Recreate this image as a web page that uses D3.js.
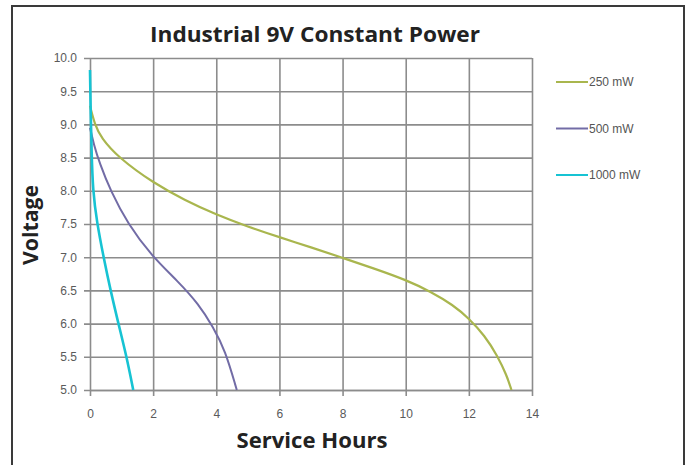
<!DOCTYPE html>
<html>
<head>
<meta charset="utf-8">
<script src="https://cdn.jsdelivr.net/npm/d3@7"></script>
<style>
  body { margin: 0; background: #fff; }
  #viz svg { display: block; }
</style>
</head>
<body>
<div id="viz"></div>
<script>
// values: [service hours, voltage]
const series250 = [[0, 9.28], [0.15, 9.0], [0.35, 8.8], [0.9, 8.5], [2, 8.12], [3, 7.86], [4, 7.64],
  [5, 7.46], [6, 7.3], [7, 7.15], [8, 6.99], [9, 6.83], [10, 6.66], [10.8, 6.48], [11.5, 6.28],
  [12, 6.08], [12.5, 5.82], [12.9, 5.52], [13.2, 5.22], [13.35, 5.0]]
const series500 = [[0, 8.95], [0.12, 8.7], [0.3, 8.42], [0.65, 8.0], [1.2, 7.5], [1.95, 7.02],
  [2.8, 6.63], [3.43, 6.3], [3.9, 5.95], [4.28, 5.6], [4.65, 5.0]]
const series1000 = [[0, 9.82], [0.02, 9.2], [0.05, 8.6], [0.09, 8.0], [0.22, 7.52], [0.43, 7.0],
  [0.65, 6.5], [0.9, 6.0], [1.16, 5.5], [1.37, 5.0]]

const seriesNames = ['250 mW', '500 mW', '1000 mW']
const seriesColors = ['#a9b64e', '#726ca6', '#17c3d3']
const xTicks = [0, 2, 4, 6, 8, 10, 12, 14]
const yTicks = [5.0, 5.5, 6.0, 6.5, 7.0, 7.5, 8.0, 8.5, 9.0, 9.5, 10.0]
const yTickLabels = ['5.0', '5.5', '6.0', '6.5', '7.0', '7.5', '8.0', '8.5', '9.0', '9.5', '10.0']

const W = 692
const H = 465
const margin = { top: 58, left: 90 }
const width = 442
const height = 332

const svg = d3.select('#viz')
  .append('svg')
  .attr('width', W)
  .attr('height', H)

// frame round the whole chart
svg.append('rect')
  .attr('x', 12)
  .attr('y', 6)
  .attr('width', 672)
  .attr('height', 480)
  .attr('fill', 'none')
  .attr('stroke', '#3a3a3a')
  .attr('stroke-width', 2)

const g = svg.append('g')
  .attr('transform', `translate(${margin.left}, ${margin.top})`)

const x = d3.scaleLinear().domain([0, 14]).range([0, width])
const y = d3.scaleLinear().domain([5, 10]).range([height, 0])

const yAxis = g.append('g')
  .call(d3.axisLeft(y)
    .tickValues(yTicks)
    .tickFormat((d, i) => yTickLabels[i])
    .tickSize(-width)
    .tickSizeOuter(0)
    .tickPadding(13))
yAxis.select('.domain').remove()
yAxis.selectAll('.tick line')
  .attr('x1', -6)
  .attr('stroke', '#8c8c8c')
  .attr('stroke-width', 1.6)

const xAxis = g.append('g')
  .attr('transform', `translate(0, ${height})`)
  .call(d3.axisBottom(x)
    .tickValues(xTicks)
    .tickSize(-height)
    .tickSizeOuter(0)
    .tickPadding(19))
xAxis.select('.domain')
  .attr('stroke', '#8c8c8c')
  .attr('stroke-width', 1.6)
xAxis.selectAll('.tick line')
  .attr('y1', 6)
  .attr('stroke', '#8c8c8c')
  .attr('stroke-width', 1.6)

svg.selectAll('.tick text')
  .attr('font-family', 'Liberation Sans, Arial, sans-serif')
  .attr('font-size', 12)
  .attr('fill', '#5a5a5a')

const line = d3.line()
  .x(d => x(d[0]))
  .y(d => y(d[1]))
  .curve(d3.curveBasis)

const allSeries = [series250, series500, series1000]
const widths = [2.2, 2, 2.6]

g.selectAll('.curve')
  .data(allSeries)
  .join('path')
  .attr('class', 'curve')
  .attr('d', line)
  .attr('fill', 'none')
  .attr('stroke', (d, i) => seriesColors[i])
  .attr('stroke-width', (d, i) => widths[i])

// legend to the right of the plot
const legend = g.selectAll('.legend')
  .data(seriesNames)
  .join('g')
  .attr('class', 'legend')
  .attr('transform', (d, i) => `translate(${width + 24}, ${24 + i * 46.5})`)

legend.append('line')
  .attr('x1', 0)
  .attr('x2', 32)
  .attr('stroke', (d, i) => seriesColors[i])
  .attr('stroke-width', 2)

legend.append('text')
  .attr('x', 33)
  .attr('dy', '0.35em')
  .attr('font-family', 'Liberation Sans, Arial, sans-serif')
  .attr('font-size', 12)
  .attr('fill', '#555')
  .text(d => d)

// titles
svg.append('text')
  .text('Industrial 9V Constant Power')
  .attr('x', 315)
  .attr('y', 42)
  .attr('text-anchor', 'middle')
  .attr('font-family', 'Open Sans, sans-serif')
  .attr('font-weight', 'bold')
  .attr('font-size', 22)
  .attr('textLength', 330)
  .attr('lengthAdjust', 'spacingAndGlyphs')
  .attr('fill', '#222')

svg.append('text')
  .text('Service Hours')
  .attr('x', 312)
  .attr('y', 448)
  .attr('text-anchor', 'middle')
  .attr('font-family', 'Open Sans, sans-serif')
  .attr('font-weight', 'bold')
  .attr('font-size', 22)
  .attr('textLength', 151)
  .attr('lengthAdjust', 'spacingAndGlyphs')
  .attr('fill', '#222')

svg.append('text')
  .text('Voltage')
  .attr('transform', 'translate(38, 225) rotate(-90)')
  .attr('text-anchor', 'middle')
  .attr('font-family', 'Open Sans, sans-serif')
  .attr('font-weight', 'bold')
  .attr('font-size', 22)
  .attr('textLength', 80)
  .attr('lengthAdjust', 'spacingAndGlyphs')
  .attr('fill', '#222')
</script>
</body>
</html>
